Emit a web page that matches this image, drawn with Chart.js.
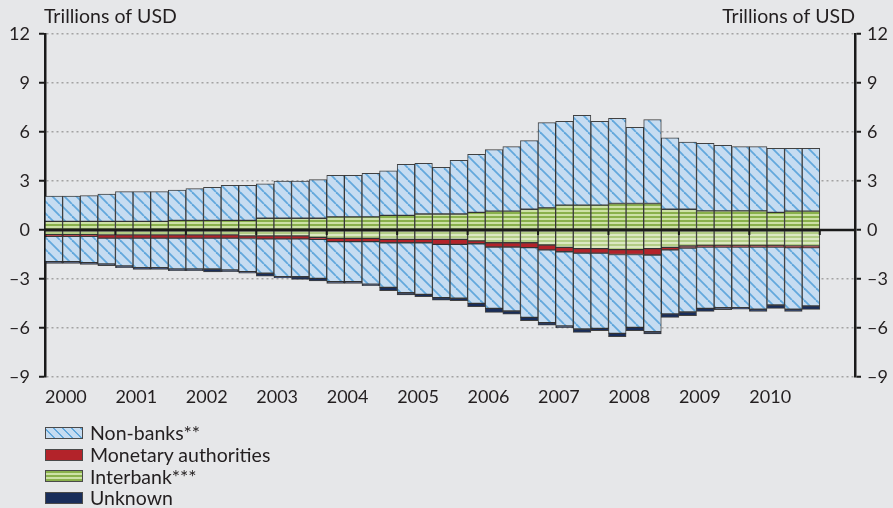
<!DOCTYPE html>
<html>
<head>
<meta charset="utf-8">
<script src="https://cdn.jsdelivr.net/npm/chart.js@4/dist/chart.umd.min.js"></script>
<style>
  html,body{margin:0;padding:0;background:#e6e7e9;}
  #wrap{position:relative;width:893px;height:508px;overflow:hidden;font-family:Lato,sans-serif;color:#231f20;}
  #wrap canvas{position:absolute;left:0;top:0;}
  .lg{position:absolute;left:45px;top:422px;}
  .lg div{height:21.7px;display:flex;align-items:center;font-size:19.5px;white-space:nowrap;}
  .sw{width:36px;height:10px;border:1px solid #4a4a4a;margin-right:7px;flex-shrink:0;}
</style>
</head>
<body>
<div id="wrap">
  <canvas id="c" width="893" height="508"></canvas>
  <div class="lg">
    <div><span class="sw" style="background:repeating-linear-gradient(45deg,#c6dcf1 0 5px,#62a8dc 5px 6.5px)"></span>Non-banks**</div>
    <div><span class="sw" style="background:#b3232a"></span>Monetary authorities</div>
    <div><span class="sw" style="background:repeating-linear-gradient(0deg,#89b04b 0 2px,#cde1a6 2px 4px)"></span>Interbank***</div>
    <div><span class="sw" style="background:#192d5a"></span>Unknown</div>
  </div>
</div>
<script>
/* ── data ─────────────────────────────────────────────── */
const UNIT     = "Trillions of USD";
const YEARS    = ["2000","2001","2002","2003","2004","2005","2006","2007","2008","2009","2010"];
const QUARTERS = ["Q1","Q2","Q3","Q4"];
const SPARE    = ["2011 Q1","2011 Q2"];          // empty room before the right axis
const Y_TICKS  = [-9,-6,-3,0,3,6,9,12];

// claims (positive side)
const IB_POS = [0.53,0.53,0.53,0.53,0.53,0.53,0.53,0.59,0.59,0.59,0.59,0.59,0.72,0.72,0.72,0.72,
                0.80,0.80,0.80,0.90,0.90,0.98,0.98,0.98,1.08,1.16,1.16,1.27,1.35,1.52,1.52,1.52,
                1.62,1.62,1.62,1.27,1.27,1.17,1.17,1.17,1.17,1.08,1.16,1.16];
const NB_POS = [1.55,1.55,1.57,1.67,1.82,1.82,1.82,1.86,1.94,2.02,2.14,2.14,2.10,2.28,2.28,2.36,
                2.55,2.55,2.67,2.73,3.12,3.10,2.86,3.29,3.55,3.76,3.94,4.20,5.22,5.13,5.50,5.13,
                5.22,4.67,5.14,4.38,4.12,4.14,4.01,3.93,3.93,3.92,3.84,3.84];
// liabilities (negative side)
const IB_NEG = [-0.28,-0.28,-0.28,-0.30,-0.30,-0.30,-0.30,-0.30,-0.30,-0.30,-0.30,-0.36,-0.36,-0.36,-0.36,-0.45,
                -0.51,-0.51,-0.51,-0.57,-0.57,-0.57,-0.57,-0.57,-0.67,-0.78,-0.78,-0.78,-0.92,-1.06,-1.14,-1.14,
                -1.20,-1.20,-1.14,-1.06,-0.98,-0.94,-0.94,-0.94,-0.94,-0.94,-0.98,-0.98];
const MA_NEG = [-0.10,-0.10,-0.10,-0.20,-0.20,-0.20,-0.20,-0.20,-0.20,-0.20,-0.20,-0.16,-0.18,-0.18,-0.18,-0.12,
                -0.20,-0.20,-0.20,-0.21,-0.21,-0.21,-0.31,-0.31,-0.17,-0.26,-0.26,-0.30,-0.30,-0.27,-0.28,-0.28,
                -0.30,-0.30,-0.39,-0.16,-0.12,-0.10,-0.10,-0.10,-0.10,-0.10,-0.10,-0.10];
const NB_NEG = [-1.56,-1.56,-1.62,-1.58,-1.70,-1.81,-1.81,-1.89,-1.89,-1.89,-1.95,-2.03,-2.11,-2.32,-2.32,-2.39,
                -2.45,-2.45,-2.60,-2.73,-3.06,-3.16,-3.26,-3.30,-3.65,-3.76,-3.92,-4.27,-4.45,-4.55,-4.64,-4.60,
                -4.83,-4.46,-4.70,-3.92,-3.92,-3.76,-3.72,-3.72,-3.80,-3.55,-3.76,-3.57];
const UNK_NEG = [-0.10,-0.10,-0.10,-0.10,-0.11,-0.10,-0.10,-0.10,-0.10,-0.18,-0.10,-0.10,-0.17,-0.08,-0.16,-0.16,
                 -0.11,-0.11,-0.10,-0.20,-0.14,-0.14,-0.15,-0.15,-0.20,-0.24,-0.20,-0.20,-0.15,-0.10,-0.21,-0.15,
                 -0.20,-0.21,-0.14,-0.21,-0.23,-0.18,-0.12,-0.08,-0.14,-0.21,-0.14,-0.21];

const LABELS = YEARS.flatMap(y => QUARTERS.map(q => y + " " + q)).concat(SPARE);

/* ── fills ────────────────────────────────────────────── */
function tile(w, h, draw) {
  const cv = document.createElement("canvas");
  cv.width = w; cv.height = h;
  draw(cv.getContext("2d"), w, h);
  return cv.getContext("2d").createPattern(cv, "repeat");
}
const HATCH = tile(12, 12, (g, s) => {
  g.fillStyle = "#c6dcf1"; g.fillRect(0, 0, s, s);
  g.strokeStyle = "#62a8dc"; g.lineWidth = 1.8;
  for (let k = -1; k <= 1; k++) { g.beginPath(); g.moveTo(k*s, 0); g.lineTo(k*s + s, s); g.stroke(); }
});
const GREEN = tile(4, 4, (g) => {
  g.fillStyle = "#cde1a6"; g.fillRect(0, 0, 4, 4);
  g.fillStyle = "#89b04b"; g.fillRect(0, 0, 4, 2);
});
const GREEN_LT = tile(4, 4, (g) => {
  g.fillStyle = "#dbe8c2"; g.fillRect(0, 0, 4, 4);
  g.fillStyle = "#b3cd86"; g.fillRect(0, 0, 4, 2);
});

const EDGE = "rgba(35,35,35,.85)";
const bar = (label, data, fill) => ({
  label, data, backgroundColor: fill, borderColor: EDGE, borderWidth: 1, borderSkipped: false,
  barPercentage: 1, categoryPercentage: 1,
});

/* ── zero line, year marks/labels, unit labels ────────── */
const overlay = {
  id: "overlay",
  afterDatasetsDraw(chart) {
    const { ctx, chartArea: a, scales: { x, y } } = chart;
    const y0 = y.getPixelForValue(0);
    const half = (x.getPixelForValue(1) - x.getPixelForValue(0)) / 2;
    ctx.save();
    ctx.strokeStyle = "#1a1a1a";
    ctx.lineWidth = 2.5;
    ctx.beginPath(); ctx.moveTo(a.left, y0); ctx.lineTo(a.right, y0); ctx.stroke();
    ctx.lineWidth = 2;
    for (let i = QUARTERS.length; i <= NB_POS.length; i += QUARTERS.length) {
      const px = x.getPixelForValue(i) - half;
      ctx.beginPath(); ctx.moveTo(px, y0); ctx.lineTo(px, y0 + 5); ctx.stroke();
    }
    ctx.fillStyle = "#231f20";
    // years, left-aligned on the first quarter
    ctx.font = "18px Lato";
    ctx.textAlign = "left"; ctx.textBaseline = "middle";
    YEARS.forEach((yr, k) => {
      ctx.fillText(yr, x.getPixelForValue(k * QUARTERS.length) - half, a.bottom + 20);
    });
    ctx.font = "19.5px Lato";
    ctx.textBaseline = "alphabetic";
    ctx.textAlign = "left";  ctx.fillText(UNIT, a.left - 1, 23);
    ctx.textAlign = "right"; ctx.fillText(UNIT, a.right, 23);
    ctx.restore();
  }
};

const tickText = v => v < 0 ? "\u2013" + Math.abs(v) : String(v);
const yAxis = (pos, width, pad, onArea) => ({
  position: pos, min: Y_TICKS[0], max: Y_TICKS[Y_TICKS.length - 1],
  afterBuildTicks: s => { s.ticks = Y_TICKS.map(v => ({ value: v })); },
  afterFit: s => { s.width = width; },
  ticks: { callback: tickText, padding: pad, color: "#231f20", font: { family: "Lato", size: 18 } },
  grid: {
    drawOnChartArea: onArea, lineWidth: 1.5, tickLength: 6, tickWidth: 2, tickColor: "#1a1a1a",
    color: c => (c.tick && c.tick.value === 0) ? "rgba(0,0,0,0)" : "#a3a3a3",
  },
  border: { color: "#1a1a1a", width: 2.5, dash: [2, 3] },
});

new Chart(document.getElementById("c"), {
  type: "bar",
  data: {
    labels: LABELS,
    datasets: [
      bar("Interbank***", IB_POS, GREEN),
      bar("Non-banks**", NB_POS, HATCH),
      bar("Interbank***", IB_NEG, GREEN_LT),
      bar("Monetary authorities", MA_NEG, "#b3232a"),
      bar("Non-banks**", NB_NEG, HATCH),
      bar("Unknown", UNK_NEG, "#192d5a"),
    ],
  },
  options: {
    responsive: false,
    animation: false,
    layout: { padding: { top: 34, bottom: 131, left: 0, right: 0 } },
    plugins: { legend: { display: false }, tooltip: { enabled: false } },
    scales: {
      x: {
        stacked: true,
        afterFit: s => { s.height = 0; },
        grid: { display: false },
        border: { display: false },
        ticks: { display: false },
      },
      y: Object.assign(yAxis("left", 45, 9, true), { stacked: true }),
      y2: yAxis("right", 38, 6, false),
    },
  },
  plugins: [overlay],
});
</script>
</body>
</html>
